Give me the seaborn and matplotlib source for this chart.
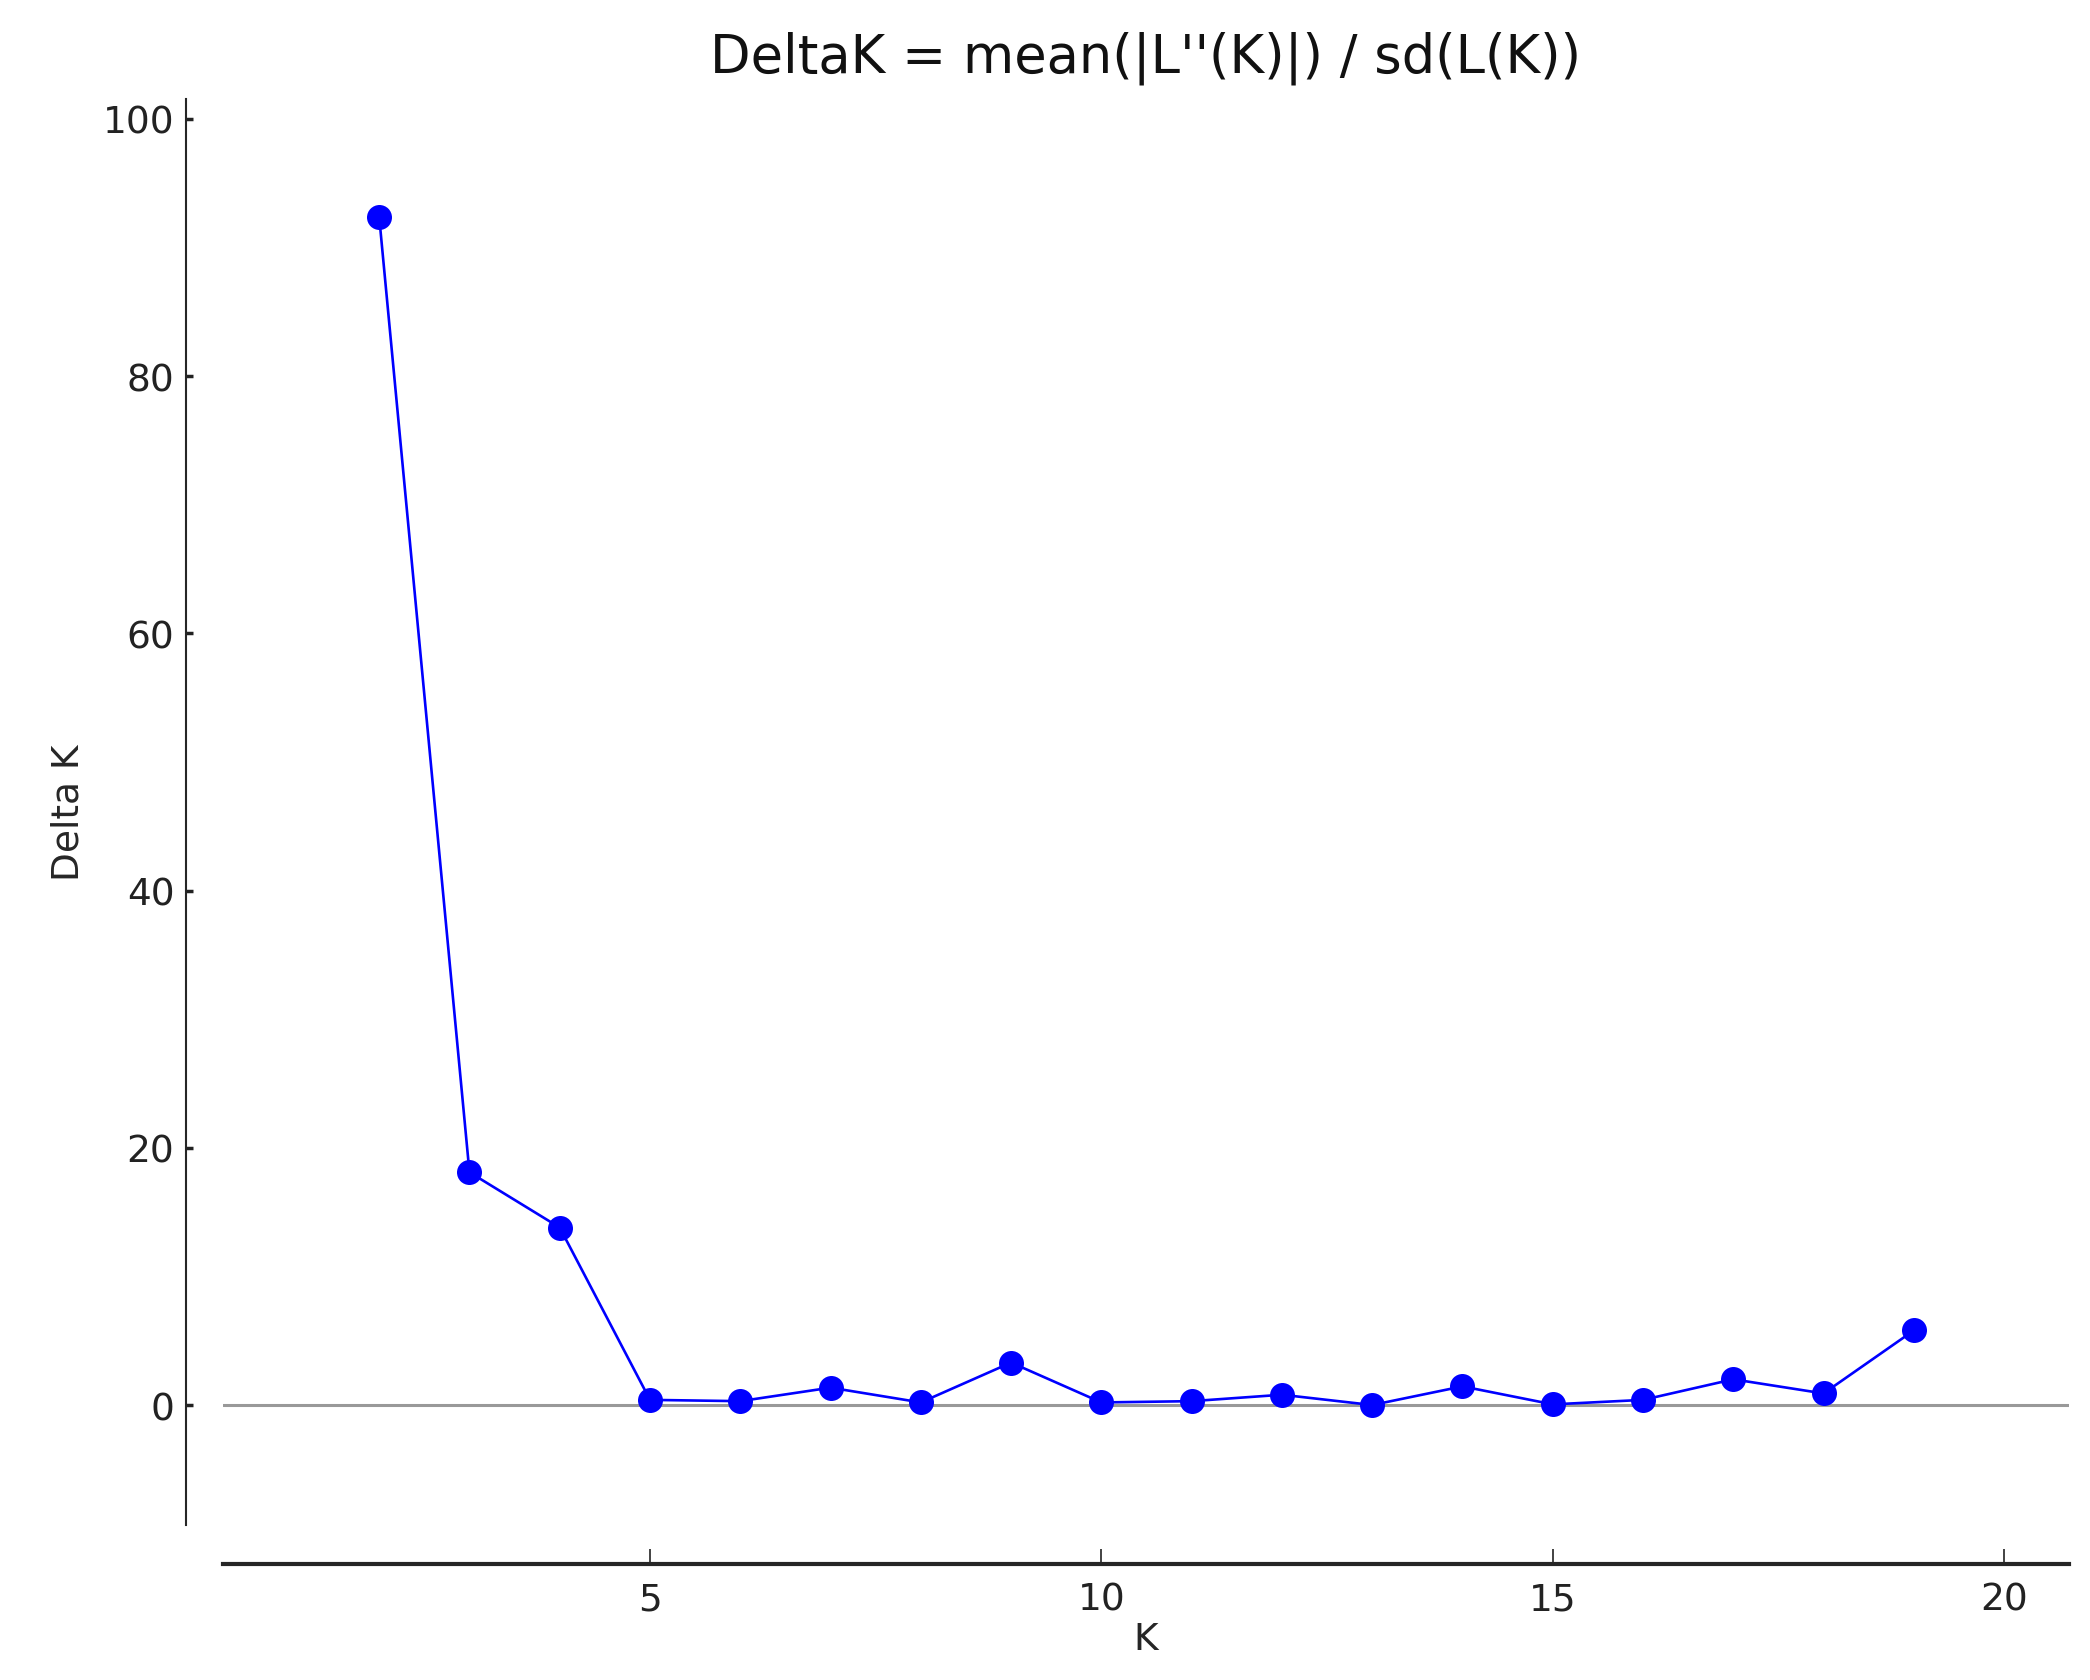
import pandas as pd
import matplotlib
matplotlib.use("Agg")
import matplotlib.pyplot as plt
import seaborn as sns

# Delta K values (Evanno method)
k_values = [2, 3, 4, 5, 6, 7, 8, 9, 10, 11, 12, 13, 14, 15, 16, 17, 18, 19]
delta_k = [92.4, 18.1, 13.8, 0.4, 0.3, 1.35, 0.2, 3.3, 0.2, 0.3, 0.8, 0.0,
           1.45, 0.05, 0.4, 2.0, 0.9, 5.8]
x_ticks = [5, 10, 15, 20]
y_ticks = [0, 20, 40, 60, 80, 100]

data = pd.DataFrame({"K": k_values, "DeltaK": delta_k})

sns.set_style("ticks")
plt.rcParams['font.family'] = ['DejaVu Sans']

fig = plt.figure(figsize=(20.9, 16.81), dpi=100)
ax = fig.add_axes([0.1067, 0.0922, 0.8833, 0.8483])

ax.axhline(0, color="#999999", linewidth=2.2, zorder=1)
sns.lineplot(data=data, x="K", y="DeltaK", ax=ax, color="blue", linewidth=1.9,
             marker="o", markersize=18, markeredgewidth=0, zorder=3)

ax.set_xlim(0.27, 20.72)
ax.set_ylim(-9.33, 101.55)
ax.set_xticks(x_ticks)
ax.set_yticks(y_ticks)

ax.spines['top'].set_visible(False)
ax.spines['right'].set_visible(False)
ax.spines['left'].set_position(('outward', 27))
ax.spines['bottom'].set_position(('outward', 28))
ax.spines['left'].set_linewidth(1.5)
ax.spines['bottom'].set_linewidth(3)

ax.tick_params(axis='x', direction='in', length=11, width=1.2, labelsize=27, pad=13, colors='#222222')
ax.tick_params(axis='y', direction='in', length=5, width=2.5, labelsize=27, pad=8, colors='#222222')

ax.set_title("DeltaK = mean(|L''(K)|) / sd(L(K))", fontsize=38, pad=20, color='#111111')
ax.set_xlabel("K", fontsize=27, labelpad=2)
ax.set_ylabel("Delta K", fontsize=27, labelpad=12)

fig.savefig("out.png", dpi=100)
